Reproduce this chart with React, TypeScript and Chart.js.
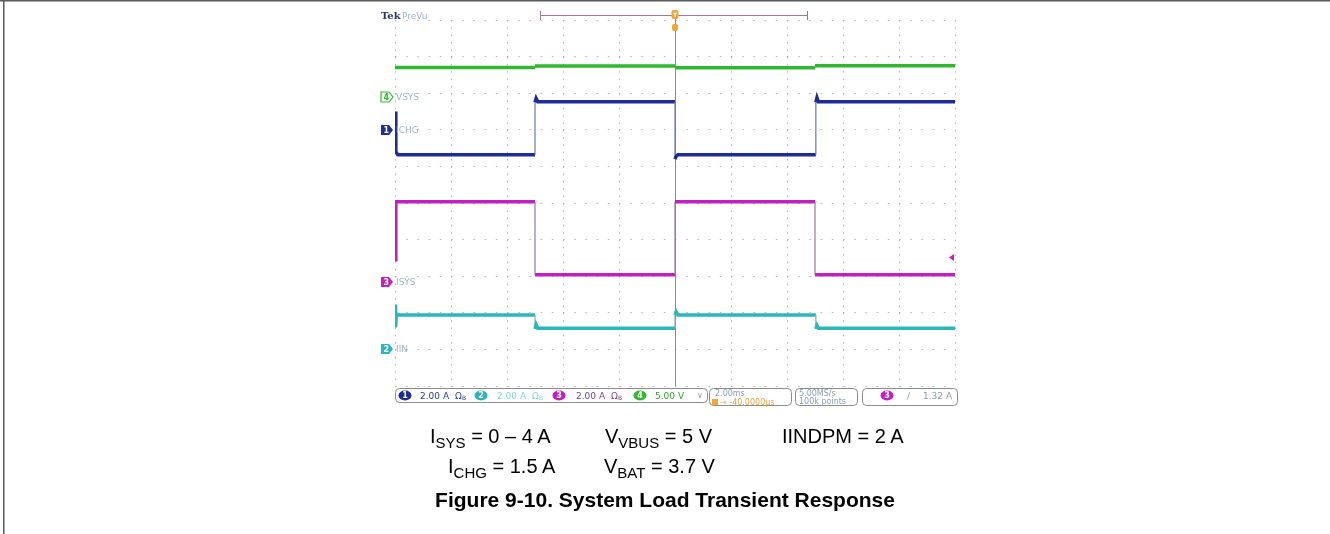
import React, { useEffect, useRef } from "react";
import { Chart, registerables } from "chart.js";
Chart.register(...registerables);

// Horizontal: 2 ms/div, 10 divisions, trigger at centre
const timeMin = -10;
const timeMax = 10;

// Channel settings: volts-or-amps per division and ground marker position (divisions from bottom)
const channelNames = ["ICHG", "IIN", "ISYS", "VSYS"];
const channelNumbers = ["1", "2", "3", "4"];
const channelScale = [2, 2, 2, 5];
const channelOffsetDiv = [7.0, 1.0, 2.85, 7.9];
const channelColors = ["#1f2b96", "#2bb7b9", "#c21fc2", "#2fb82f"];
const channelEdgeColors = ["#6f78a8", "#7fb0b8", "#9a7a9a", "#6fa86f"];
const channelStatus = ["2.00 A", "2.00 A", "2.00 A", "5.00 V"];

// Ch1 ICHG (A)
const ichgTime = [-10, -9.97, -9.9, -5.0, -5.0, -4.96, -4.9, 0, 0, 0.04, 0.1, 5.03, 5.03, 5.07, 5.12, 10];
const ichgValue = [1.0, -1.2, -1.37, -1.37, 1.5, 1.72, 1.53, 1.53, -1.6, -1.45, -1.37, -1.37, 1.5, 1.75, 1.53, 1.53];
// Ch2 IIN (A)
const iinTime = [-10, -9.98, -9.95, -9.9, -5.0, -5.0, -4.96, -4.9, 0, 0, 0.04, 0.1, 5.03, 5.03, 5.07, 5.12, 10];
const iinValue = [2.45, 1.2, 1.95, 1.88, 1.88, 1.12, 1.35, 1.15, 1.15, 1.88, 2.05, 1.88, 1.88, 1.12, 1.3, 1.15, 1.15];
// Ch3 ISYS (A)
const isysTime = [-10, -9.97, -5.0, -5.0, 0, 0, 5.0, 5.0, 10];
const isysValue = [1.2, 4.37, 4.37, 0.38, 0.38, 4.37, 4.37, 0.38, 0.38];
// Ch4 VSYS (V)
const vsysTime = [-10, -5.0, -5.0, 0, 0, 5.0, 5.0, 10];
const vsysValue = [4.0, 4.0, 4.22, 4.22, 3.97, 3.97, 4.25, 4.25];

// Trigger level (ch3, A)
const triggerLevel = 1.32;

const toPoints = (t: number[], v: number[]) => t.map((x, i) => ({ x, y: v[i] }));

const W = 1330;
const H = 534;
const plotLeft = 395;
const plotRight = 955;
const plotTop = 20;
const plotBottom = 386;

function axisFor(i: number) {
  const off = channelOffsetDiv[i];
  const s = channelScale[i];
  return { type: "linear" as const, display: false, min: -off * s, max: (10 - off) * s };
}

function makeDataset(i: number, t: number[], v: number[]) {
  return {
    label: channelNames[i],
    data: toPoints(t, v),
    yAxisID: "c" + (i + 1),
    borderColor: channelColors[i],
    borderWidth: 3.5,
    pointRadius: 0,
    tension: 0,
    fill: false,
    segment: {
      borderWidth: (ctx: any) => (ctx.p0.parsed.x === ctx.p1.parsed.x ? 1.2 : 3.5),
      borderColor: (ctx: any) => (ctx.p0.parsed.x === ctx.p1.parsed.x ? channelEdgeColors[i] : channelColors[i]),
    },
  };
}

function badge(ctx: CanvasRenderingContext2D, cx: number, cy: number, color: string, num: string) {
  ctx.beginPath();
  ctx.ellipse(cx, cy, 6.5, 5, 0, 0, Math.PI * 2);
  ctx.fillStyle = color;
  ctx.fill();
  ctx.fillStyle = "#ffffff";
  ctx.font = "bold 8px 'DejaVu Sans'";
  ctx.textAlign = "center";
  ctx.textBaseline = "middle";
  ctx.fillText(num, cx, cy + 0.5);
  ctx.textAlign = "left";
  ctx.textBaseline = "alphabetic";
}

function roundBox(ctx: CanvasRenderingContext2D, x: number, y: number, w: number, h: number) {
  ctx.beginPath();
  (ctx as any).roundRect(x, y, w, h, 4);
  ctx.fillStyle = "#ffffff";
  ctx.fill();
  ctx.strokeStyle = "#8c8c8c";
  ctx.lineWidth = 1;
  ctx.stroke();
}

const scopePlugin = {
  id: "scopeDecor",
  beforeDatasetsDraw(chart: any) {
    const ctx = chart.ctx as CanvasRenderingContext2D;
    const x0 = chart.scales.x.getPixelForValue(0);
    ctx.save();
    ctx.strokeStyle = "#8a8a8a";
    ctx.lineWidth = 1;
    ctx.beginPath();
    ctx.moveTo(Math.round(x0) + 0.5, 12);
    ctx.lineTo(Math.round(x0) + 0.5, chart.chartArea.bottom);
    ctx.stroke();
    ctx.restore();
  },
  afterDraw(chart: any) {
    const ctx = chart.ctx as CanvasRenderingContext2D;
    const xs = chart.scales.x;
    ctx.save();

    // page frame
    ctx.fillStyle = "#5a5a5a";
    ctx.fillRect(0, 0, W, 1.5);
    ctx.fillRect(3, 0, 1.5, H);

    // Tek PreVu
    ctx.font = "bold 10px 'DejaVu Serif'";
    ctx.fillStyle = "#2d3466";
    ctx.fillText("Tek", 381, 19);
    ctx.font = "9px 'DejaVu Sans'";
    ctx.fillStyle = "#9cb0d0";
    ctx.fillText("PreVu", 402, 19);

    // record bracket
    ctx.strokeStyle = "#9a7a9a";
    ctx.lineWidth = 1;
    ctx.beginPath();
    ctx.moveTo(540, 15.5);
    ctx.lineTo(807, 15.5);
    ctx.moveTo(540.5, 11);
    ctx.lineTo(540.5, 20);
    ctx.moveTo(807.5, 11);
    ctx.lineTo(807.5, 20);
    ctx.stroke();

    // trigger position marker
    const tx = Math.round(xs.getPixelForValue(0));
    ctx.fillStyle = "#f0a43a";
    ctx.beginPath();
    (ctx as any).roundRect(tx - 3.5, 10, 7, 9, 2);
    ctx.fill();
    ctx.beginPath();
    (ctx as any).roundRect(tx - 3, 24, 6, 7, 2);
    ctx.fill();
    ctx.fillStyle = "#ffffff";
    ctx.font = "bold 6px 'DejaVu Sans'";
    ctx.textAlign = "center";
    ctx.fillText("T", tx, 17);
    ctx.textAlign = "left";

    // channel ground markers and labels
    for (let i = 0; i < 4; i++) {
      const y = Math.round(chart.scales["c" + (i + 1)].getPixelForValue(0));
      ctx.beginPath();
      ctx.moveTo(381, y - 5);
      ctx.lineTo(389, y - 5);
      ctx.lineTo(393, y);
      ctx.lineTo(389, y + 5);
      ctx.lineTo(381, y + 5);
      ctx.closePath();
      if (i === 3) {
        ctx.fillStyle = "#ffffff";
        ctx.fill();
        ctx.strokeStyle = channelColors[i];
        ctx.lineWidth = 1.2;
        ctx.stroke();
        ctx.fillStyle = channelColors[i];
      } else {
        ctx.fillStyle = channelColors[i];
        ctx.fill();
        ctx.fillStyle = "#ffffff";
      }
      ctx.font = "bold 8px 'DejaVu Sans'";
      ctx.textBaseline = "middle";
      ctx.fillText(channelNumbers[i], 383.5, y + 0.5);
      ctx.font = "9px 'DejaVu Sans'";
      ctx.fillStyle = "#a3b2cc";
      ctx.fillText(channelNames[i], 396, y + 0.5);
      ctx.textBaseline = "alphabetic";
    }

    // trigger level marker (ch3)
    const ty = chart.scales.c3.getPixelForValue(triggerLevel);
    ctx.fillStyle = channelColors[2];
    ctx.beginPath();
    ctx.moveTo(949, ty);
    ctx.lineTo(954, ty - 3.5);
    ctx.lineTo(954, ty + 3.5);
    ctx.closePath();
    ctx.fill();

    // status bar
    roundBox(ctx, 395.5, 388.5, 312, 14);
    const badgeX = [405, 481, 559, 640];
    const textX = [420, 497, 576, 655];
    const textColors = ["#2b3a96", "#7fd4d4", "#7a3f88", "#2f9f2f"];
    for (let i = 0; i < 4; i++) {
      badge(ctx, badgeX[i], 395.5, channelColors[i], channelNumbers[i]);
      ctx.font = "9px 'DejaVu Sans'";
      ctx.fillStyle = textColors[i];
      ctx.fillText(channelStatus[i], textX[i], 399);
      if (i < 3) {
        ctx.fillText("Ω", textX[i] + 35, 399);
        ctx.font = "6px 'DejaVu Sans'";
        ctx.fillText("B", textX[i] + 42, 400);
      }
    }
    ctx.font = "8px 'DejaVu Sans'";
    ctx.fillStyle = "#8a9ab8";
    ctx.fillText("∨", 697, 398);

    roundBox(ctx, 709.5, 388.5, 82, 17);
    ctx.font = "8px 'DejaVu Sans'";
    ctx.fillStyle = "#8a9ab8";
    ctx.fillText("2.00ms", 715, 396);
    ctx.fillStyle = "#f0a43a";
    ctx.fillRect(712, 399, 6, 6);
    ctx.fillText("→ -40.0000μs", 720, 405);

    roundBox(ctx, 795.5, 388.5, 62, 17);
    ctx.fillStyle = "#8a9ab8";
    ctx.fillText("5.00MS/s", 799, 396);
    ctx.fillText("100k points", 799, 404);

    roundBox(ctx, 862.5, 388.5, 95, 17);
    badge(ctx, 887, 395.5, channelColors[2], "3");
    ctx.font = "9px 'DejaVu Sans'";
    ctx.fillStyle = "#8a9ab8";
    ctx.fillText("/", 907, 399);
    ctx.fillText("1.32 A", 923, 399);

    ctx.restore();
  },
};

const sub: React.CSSProperties = { fontSize: "0.75em", verticalAlign: "-0.3em", lineHeight: 0 };
const cap: React.CSSProperties = {
  position: "absolute",
  fontFamily: "'Liberation Sans', Arial, sans-serif",
  fontSize: 20,
  lineHeight: "20px",
  color: "#000",
  whiteSpace: "nowrap",
};

export default function App() {
  const ref = useRef<HTMLCanvasElement>(null);
  useEffect(() => {
    if (!ref.current) return;
    const chart = new Chart(ref.current, {
      type: "line",
      data: {
        datasets: [
          makeDataset(0, ichgTime, ichgValue),
          makeDataset(2, isysTime, isysValue),
          makeDataset(1, iinTime, iinValue),
          makeDataset(3, vsysTime, vsysValue),
        ] as any,
      },
      options: {
        animation: false,
        responsive: false,
        events: [],
        layout: { padding: { left: plotLeft, right: W - plotRight, top: plotTop, bottom: H - plotBottom } },
        plugins: { legend: { display: false }, tooltip: { enabled: false } },
        scales: {
          x: {
            type: "linear",
            min: timeMin,
            max: timeMax,
            ticks: { display: false, stepSize: 2 },
            grid: { color: "#b4b4b4", lineWidth: 1, drawTicks: false },
            border: { display: false, dash: [1.5, 5.82] },
          },
          y: {
            type: "linear",
            min: 0,
            max: 10,
            ticks: { display: false, stepSize: 1 },
            grid: { color: "#b4b4b4", lineWidth: 1, drawTicks: false },
            border: { display: false, dash: [1.5, 9.7] },
          },
          c1: axisFor(0),
          c2: axisFor(1),
          c3: axisFor(2),
          c4: axisFor(3),
        },
      } as any,
      plugins: [scopePlugin],
    });
    return () => chart.destroy();
  }, []);

  return (
    <div style={{ position: "absolute", left: 0, top: 0, width: W, height: H, background: "#fff", overflow: "hidden" }}>
      <canvas ref={ref} width={W} height={H} style={{ position: "absolute", left: 0, top: 0 }} />
      <div style={{ ...cap, left: 430, top: 426 }}>
        I<span style={sub}>SYS</span> = 0 – 4 A
      </div>
      <div style={{ ...cap, left: 605, top: 426 }}>
        V<span style={sub}>VBUS</span> = 5 V
      </div>
      <div style={{ ...cap, left: 782, top: 426 }}>IINDPM = 2 A</div>
      <div style={{ ...cap, left: 448, top: 456 }}>
        I<span style={sub}>CHG</span> = 1.5 A
      </div>
      <div style={{ ...cap, left: 604, top: 456 }}>
        V<span style={sub}>BAT</span> = 3.7 V
      </div>
      <div style={{ ...cap, left: 0, width: W, top: 488, textAlign: "center", fontWeight: "bold", fontSize: 21, lineHeight: "24px" }}>
        Figure 9-10. System Load Transient Response
      </div>
    </div>
  );
}
